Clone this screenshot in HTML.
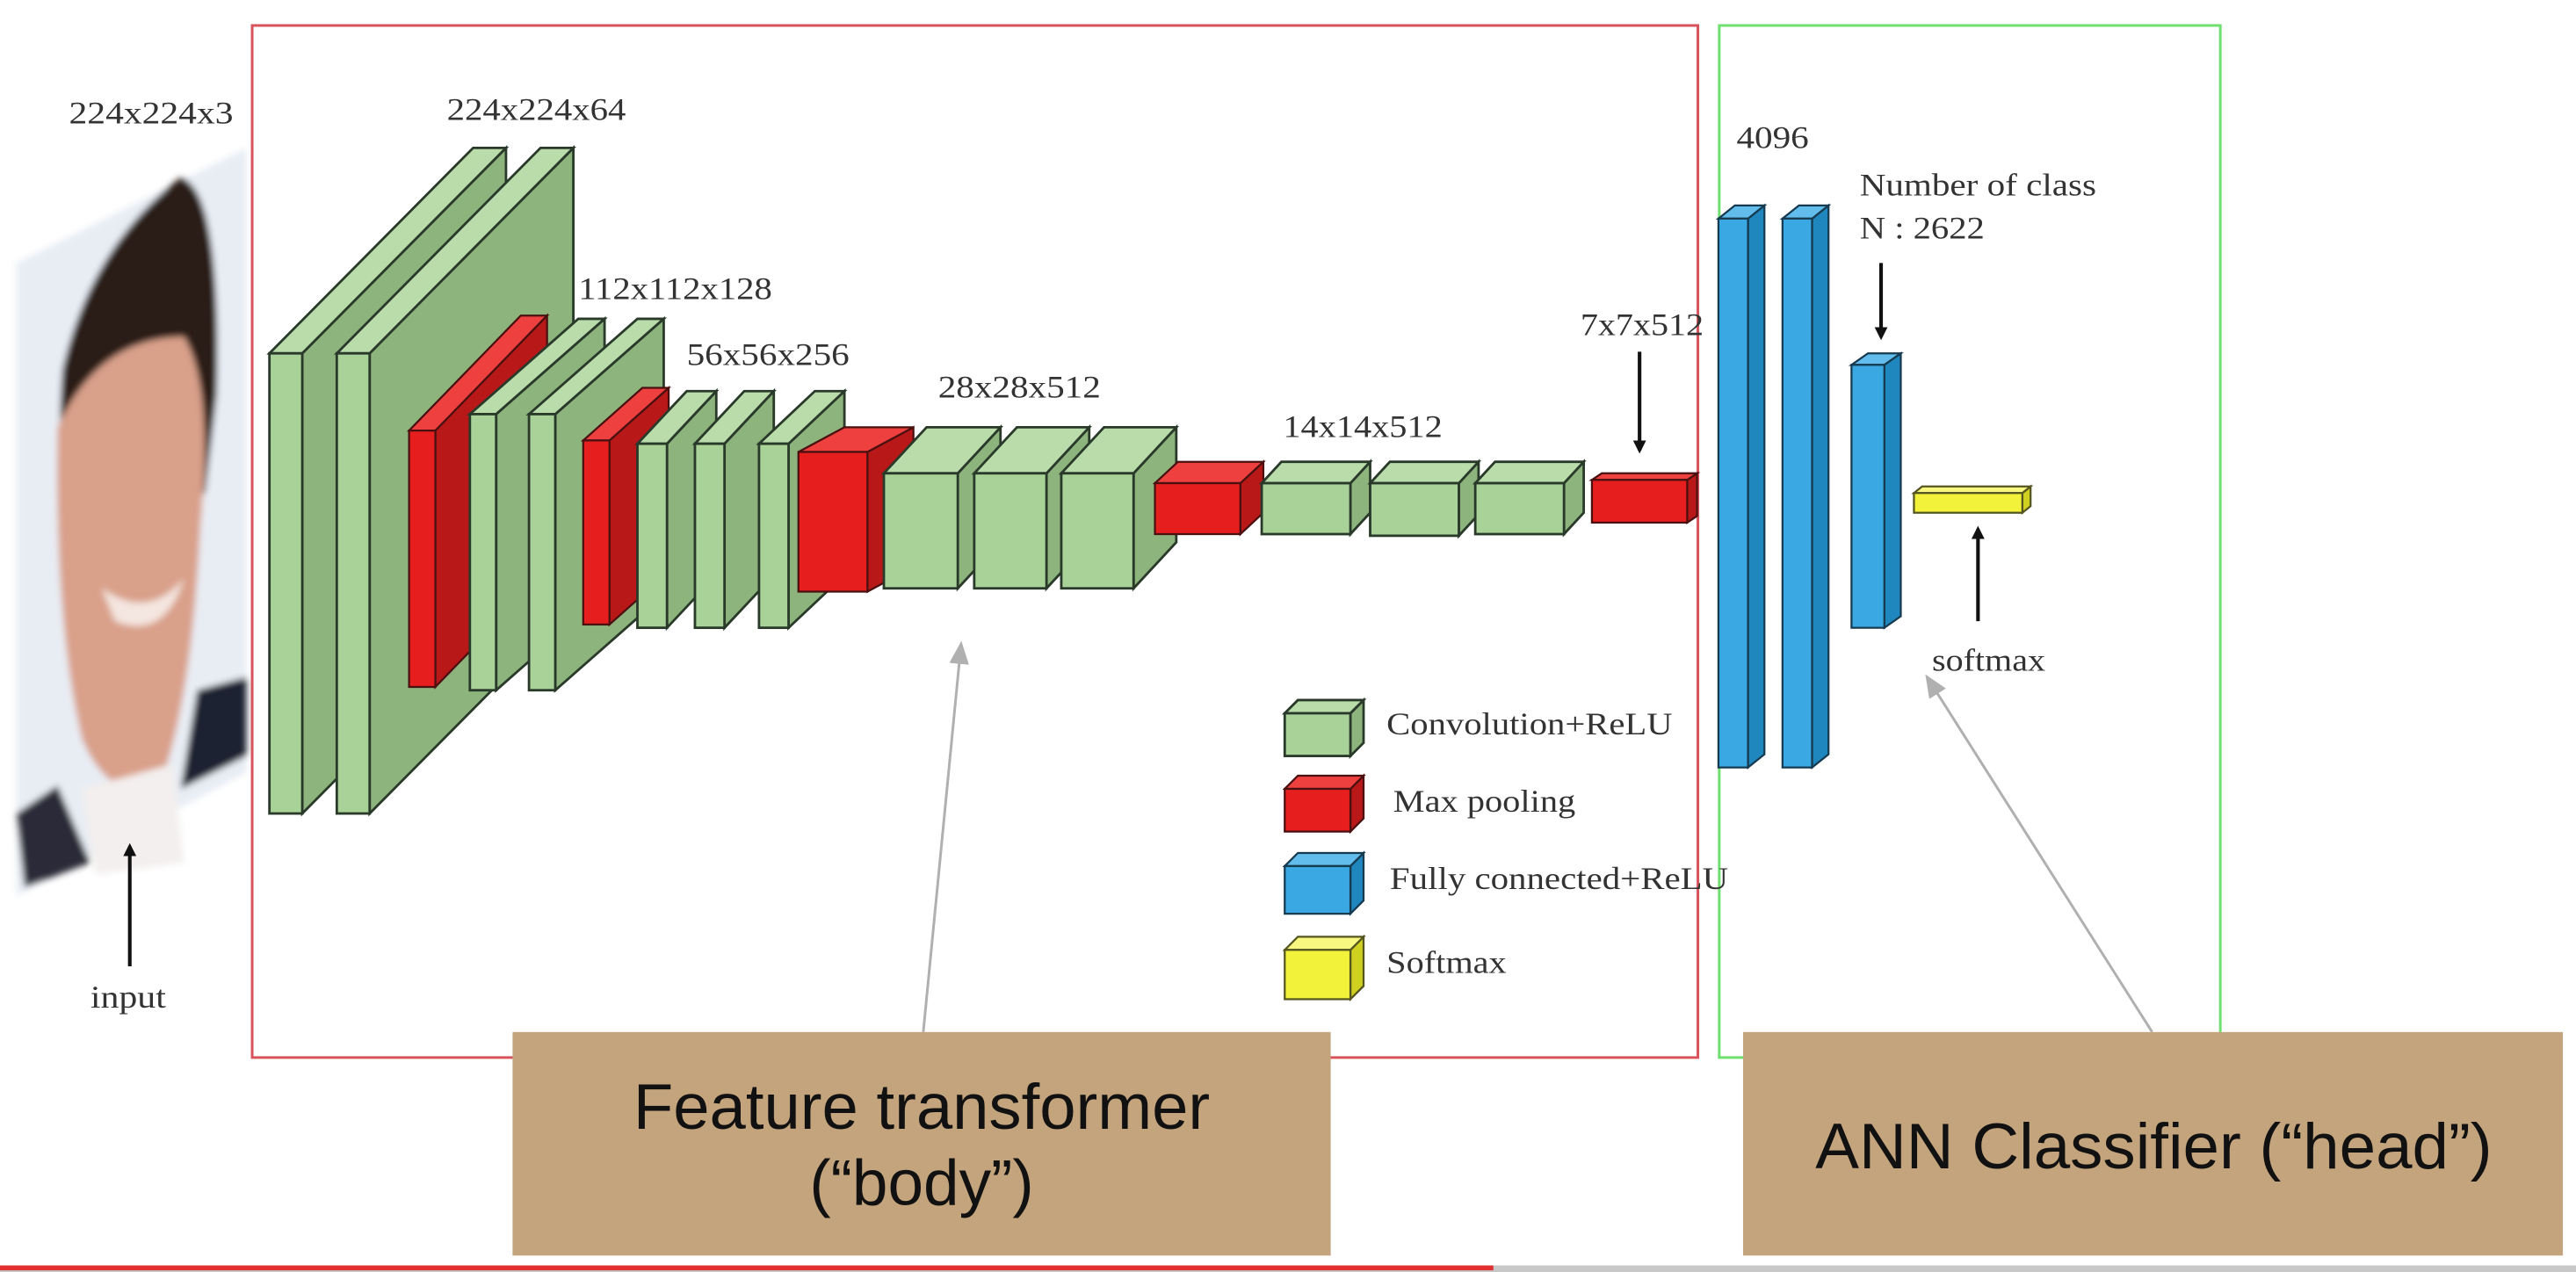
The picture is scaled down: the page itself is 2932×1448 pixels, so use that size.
<!DOCTYPE html>
<html><head><meta charset="utf-8"><style>
html,body{margin:0;padding:0;background:#fff;width:2932px;height:1448px;overflow:hidden}
svg{display:block}
.t{font-family:"Liberation Serif",serif;font-size:19px;fill:#333}
.b{font-family:"Liberation Sans",sans-serif;font-size:39px;fill:#111}
.g{fill:#a8d298;stroke:#2a3a2a;stroke-width:1.5}
.gt{fill:#b9dcaa;stroke:#2a3a2a;stroke-width:1.5}
.gs{fill:#8db47d;stroke:#2a3a2a;stroke-width:1.5}
.r{fill:#e61e1e;stroke:#4a1010;stroke-width:1.2}
.rt{fill:#ef4040;stroke:#4a1010;stroke-width:1.2}
.rs{fill:#b81818;stroke:#4a1010;stroke-width:1.2}
.bl{fill:#3aa8e2;stroke:#163a50;stroke-width:1.2}
.blt{fill:#62bdec;stroke:#163a50;stroke-width:1.2}
.bls{fill:#1f86be;stroke:#163a50;stroke-width:1.2}
.y{fill:#f2f23a;stroke:#555520;stroke-width:1.2}
.yt{fill:#f8f880;stroke:#555520;stroke-width:1.2}
.ys{fill:#d0d020;stroke:#555520;stroke-width:1.2}
</style></head><body>
<svg width="2932" height="1448" viewBox="0 0 1568 774" preserveAspectRatio="none" xmlns="http://www.w3.org/2000/svg">
<defs>
<marker id="ak" markerWidth="8" markerHeight="8" refX="6" refY="4" orient="auto" markerUnits="userSpaceOnUse"><path d="M0,0 L8,4 L0,8 z" fill="#111"/></marker>
<marker id="ag" markerWidth="14" markerHeight="12" refX="12" refY="6" orient="auto" markerUnits="userSpaceOnUse"><path d="M0,0 L14,6 L0,12 z" fill="#b0b0b0"/></marker>
<filter id="bl"><feGaussianBlur stdDeviation="2"/></filter>
</defs>
<rect width="1568" height="774" fill="#fff"/>
<!-- face -->
<g filter="url(#bl)">
<polygon points="10,160 150,90 150,470 10,545" fill="#e8edf4"/>
<path d="M38,225 Q55,150 110,108 Q135,115 132,240 L125,300 L50,330 Q32,300 38,225z" fill="#2b1d17"/>
<path d="M35,260 Q60,205 112,205 Q130,235 122,320 Q117,420 100,470 Q70,495 50,450 Q33,380 35,260z" fill="#d9a08a"/>
<path d="M62,358 Q90,378 112,352 Q100,390 70,378z" fill="#f4e6e0"/>
<polygon points="120,420 150,412 150,460 110,480" fill="#1b2233"/>
<polygon points="50,480 105,465 112,525 58,532" fill="#f3efee"/>
<polygon points="10,495 35,478 55,525 15,540" fill="#2a2a38"/>
</g>
<!-- frames -->
<rect x="153.5" y="15.5" width="880" height="628" fill="none" stroke="#d9535c" stroke-width="1.6"/>
<rect x="1046.5" y="15.5" width="305" height="628" fill="none" stroke="#6fe06f" stroke-width="1.6"/>
<!-- blocks -->
<polygon class="gs" points="184,215 308,90 308,370 184,495"/><polygon class="gt" points="164,215 184,215 308,90 288,90"/><rect class="g" x="164" y="215" width="20" height="280"/>
<polygon class="gs" points="225,215 349,90 349,370 225,495"/><polygon class="gt" points="205,215 225,215 349,90 329,90"/><rect class="g" x="205" y="215" width="20" height="280"/>
<polygon class="rs" points="265,262 333,192 333,348 265,418"/><polygon class="rt" points="249,262 265,262 333,192 317,192"/><rect class="r" x="249" y="262" width="16" height="156"/>
<polygon class="gs" points="302,252 368,194 368,362 302,420"/><polygon class="gt" points="286,252 302,252 368,194 352,194"/><rect class="g" x="286" y="252" width="16" height="168"/>
<polygon class="gs" points="338,252 404,194 404,362 338,420"/><polygon class="gt" points="322,252 338,252 404,194 388,194"/><rect class="g" x="322" y="252" width="16" height="168"/>
<polygon class="rs" points="371,268 407,236 407,348 371,380"/><polygon class="rt" points="355,268 371,268 407,236 391,236"/><rect class="r" x="355" y="268" width="16" height="112"/>
<polygon class="gs" points="406,270 436,238 436,350 406,382"/><polygon class="gt" points="388,270 406,270 436,238 418,238"/><rect class="g" x="388" y="270" width="18" height="112"/>
<polygon class="gs" points="441,270 471,238 471,350 441,382"/><polygon class="gt" points="423,270 441,270 471,238 453,238"/><rect class="g" x="423" y="270" width="18" height="112"/>
<polygon class="gs" points="480,270 514,238 514,350 480,382"/><polygon class="gt" points="462,270 480,270 514,238 496,238"/><rect class="g" x="462" y="270" width="18" height="112"/>
<polygon class="rs" points="528,275 556,260 556,345 528,360"/><polygon class="rt" points="486,275 528,275 556,260 514,260"/><rect class="r" x="486" y="275" width="42" height="85"/>
<polygon class="gs" points="583,288 609,260 609,330 583,358"/><polygon class="gt" points="538,288 583,288 609,260 564,260"/><rect class="g" x="538" y="288" width="45" height="70"/>
<polygon class="gs" points="637,288 663,260 663,330 637,358"/><polygon class="gt" points="593,288 637,288 663,260 619,260"/><rect class="g" x="593" y="288" width="44" height="70"/>
<polygon class="gs" points="690,288 716,260 716,330 690,358"/><polygon class="gt" points="646,288 690,288 716,260 672,260"/><rect class="g" x="646" y="288" width="44" height="70"/>
<polygon class="rs" points="755,294 769,281 769,312 755,325"/><polygon class="rt" points="703,294 755,294 769,281 717,281"/><rect class="r" x="703" y="294" width="52" height="31"/>
<polygon class="gs" points="822,294 834,281 834,312 822,325"/><polygon class="gt" points="768,294 822,294 834,281 780,281"/><rect class="g" x="768" y="294" width="54" height="31"/>
<polygon class="gs" points="888,294 900,281 900,313 888,326"/><polygon class="gt" points="834,294 888,294 900,281 846,281"/><rect class="g" x="834" y="294" width="54" height="32"/>
<polygon class="gs" points="952,294 964,281 964,312 952,325"/><polygon class="gt" points="898,294 952,294 964,281 910,281"/><rect class="g" x="898" y="294" width="54" height="31"/>
<polygon class="rs" points="1027,292 1033,288 1033,314 1027,318"/><polygon class="rt" points="969,292 1027,292 1033,288 975,288"/><rect class="r" x="969" y="292" width="58" height="26"/>
<polygon class="bls" points="1064,133 1074,125 1074,459 1064,467"/><polygon class="blt" points="1046,133 1064,133 1074,125 1056,125"/><rect class="bl" x="1046" y="133" width="18" height="334"/>
<polygon class="bls" points="1103,133 1113,125 1113,459 1103,467"/><polygon class="blt" points="1085,133 1103,133 1113,125 1095,125"/><rect class="bl" x="1085" y="133" width="18" height="334"/>
<polygon class="bls" points="1147,222 1157,215 1157,375 1147,382"/><polygon class="blt" points="1127,222 1147,222 1157,215 1137,215"/><rect class="bl" x="1127" y="222" width="20" height="160"/>
<polygon class="ys" points="1231,300 1236,296 1236,308 1231,312"/><polygon class="yt" points="1165,300 1231,300 1236,296 1170,296"/><rect class="y" x="1165" y="300" width="66" height="12"/>
<!-- legend -->
<polygon class="gs" points="822,434 830,426 830,452 822,460"/><polygon class="gt" points="782,434 822,434 830,426 790,426"/><rect class="g" x="782" y="434" width="40" height="26"/>
<polygon class="rs" points="822,480 830,472 830,498 822,506"/><polygon class="rt" points="782,480 822,480 830,472 790,472"/><rect class="r" x="782" y="480" width="40" height="26"/>
<polygon class="bls" points="822,527 830,519 830,548 822,556"/><polygon class="blt" points="782,527 822,527 830,519 790,519"/><rect class="bl" x="782" y="527" width="40" height="29"/>
<polygon class="ys" points="822,578 830,570 830,600 822,608"/><polygon class="yt" points="782,578 822,578 830,570 790,570"/><rect class="y" x="782" y="578" width="40" height="30"/>
<text class="t" x="844" y="447" textLength="174" lengthAdjust="spacingAndGlyphs">Convolution+ReLU</text>
<text class="t" x="848" y="494" textLength="111" lengthAdjust="spacingAndGlyphs">Max pooling</text>
<text class="t" x="846" y="541" textLength="206" lengthAdjust="spacingAndGlyphs">Fully connected+ReLU</text>
<text class="t" x="844" y="592" textLength="73" lengthAdjust="spacingAndGlyphs">Softmax</text>
<!-- labels -->
<text class="t" x="42" y="75" textLength="100" lengthAdjust="spacingAndGlyphs">224x224x3</text>
<text class="t" x="272" y="73" textLength="109" lengthAdjust="spacingAndGlyphs">224x224x64</text>
<text class="t" x="352" y="182" textLength="118" lengthAdjust="spacingAndGlyphs">112x112x128</text>
<text class="t" x="418" y="222" textLength="99" lengthAdjust="spacingAndGlyphs">56x56x256</text>
<text class="t" x="571" y="242" textLength="99" lengthAdjust="spacingAndGlyphs">28x28x512</text>
<text class="t" x="781" y="266" textLength="97" lengthAdjust="spacingAndGlyphs">14x14x512</text>
<text class="t" x="962" y="204" textLength="75" lengthAdjust="spacingAndGlyphs">7x7x512</text>
<text class="t" x="1057" y="90" textLength="44" lengthAdjust="spacingAndGlyphs">4096</text>
<text class="t" x="1132" y="119" textLength="144" lengthAdjust="spacingAndGlyphs">Number of class</text>
<text class="t" x="1132" y="145" textLength="76" lengthAdjust="spacingAndGlyphs">N : 2622</text>
<text class="t" x="1176" y="408" textLength="69" lengthAdjust="spacingAndGlyphs">softmax</text>
<text class="t" x="55" y="613" textLength="46" lengthAdjust="spacingAndGlyphs">input</text>
<!-- arrows -->
<g stroke="#111" stroke-width="2.2" fill="none">
<line x1="998" y1="214" x2="998" y2="274" marker-end="url(#ak)"/>
<line x1="1145" y1="160" x2="1145" y2="205" marker-end="url(#ak)"/>
<line x1="1204" y1="378" x2="1204" y2="322" marker-end="url(#ak)"/>
<line x1="79" y1="588" x2="79" y2="515" marker-end="url(#ak)"/>
</g>
<g stroke="#b0b0b0" stroke-width="1.6" fill="none">
<line x1="562" y1="628" x2="585" y2="392" marker-end="url(#ag)"/>
<line x1="1310" y1="628" x2="1173" y2="412" marker-end="url(#ag)"/>
</g>
<!-- brown boxes -->
<rect x="312" y="628" width="498" height="136" fill="#c4a47c"/>
<rect x="1061" y="628" width="499" height="136" fill="#c4a47c"/>
<text class="b" x="561" y="687" text-anchor="middle" textLength="351" lengthAdjust="spacingAndGlyphs">Feature transformer</text>
<text class="b" x="561" y="733" text-anchor="middle">(“body”)</text>
<text class="b" x="1311" y="711" text-anchor="middle" textLength="412" lengthAdjust="spacingAndGlyphs">ANN Classifier (“head”)</text>
<!-- bottom line -->
<rect x="0" y="770" width="1568" height="4" fill="#c8c8c8"/>
<rect x="0" y="770" width="909" height="3" fill="#e03030"/>
</svg>
</body></html>
